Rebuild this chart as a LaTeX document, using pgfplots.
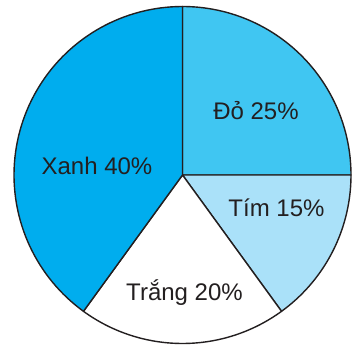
\documentclass[border=0pt]{standalone}
\usepackage{fontspec}
\setmainfont{Liberation Sans}
\usepackage{pgfplots}
\pgfplotsset{compat=1.18}
\definecolor{cDo}{HTML}{40C6F2}
\definecolor{cTim}{HTML}{AAE1F9}
\definecolor{cTrang}{HTML}{FFFFFF}
\definecolor{cXanh}{HTML}{00ADEE}
\definecolor{cLine}{HTML}{231F20}
\begin{document}
\begin{tikzpicture}
\begin{axis}[
  width=354pt, height=345pt, scale only axis,
  xmin=0, xmax=354, ymin=0, ymax=345,
  hide axis, clip=false,
  every axis plot/.append style={draw=cLine, line width=1.4pt, line join=round, samples=80, variable=\t, no markers},
]
\path (rel axis cs:0,0) rectangle (rel axis cs:1,1);
% percentages: Do 25, Tim 15, Trang 20, Xanh 40 ; start at 90 deg, clockwise
\addplot[fill=cDo, domain={90-3.6*25}:{90}]
  ({182.5+168.5*cos(\t)},{170+168.5*sin(\t)}) -- (axis cs:182.5,170) -- cycle;
\addplot[fill=cTim, domain={90-3.6*(25+15)}:{90-3.6*25}]
  ({182.5+168.5*cos(\t)},{170+168.5*sin(\t)}) -- (axis cs:182.5,170) -- cycle;
\addplot[fill=cTrang, domain={90-3.6*(25+15+20)}:{90-3.6*(25+15)}]
  ({182.5+168.5*cos(\t)},{170+168.5*sin(\t)}) -- (axis cs:182.5,170) -- cycle;
\addplot[fill=cXanh, domain={90-3.6*(25+15+20+40)}:{90-3.6*(25+15+20)}]
  ({182.5+168.5*cos(\t)},{170+168.5*sin(\t)}) -- (axis cs:182.5,170) -- cycle;
\begin{scope}[every node/.style={font=\fontsize{24}{28}\selectfont, text=cLine, inner sep=0pt, anchor=base}]
\node at (axis cs:256,225) {Đỏ 25\%};
\node at (axis cs:276.5,128) {Tím 15\%};
\node at (axis cs:184.5,44) {Trắng 20\%};
\node at (axis cs:97,170) {Xanh 40\%};
\end{scope}
\end{axis}
\end{tikzpicture}
\end{document}
